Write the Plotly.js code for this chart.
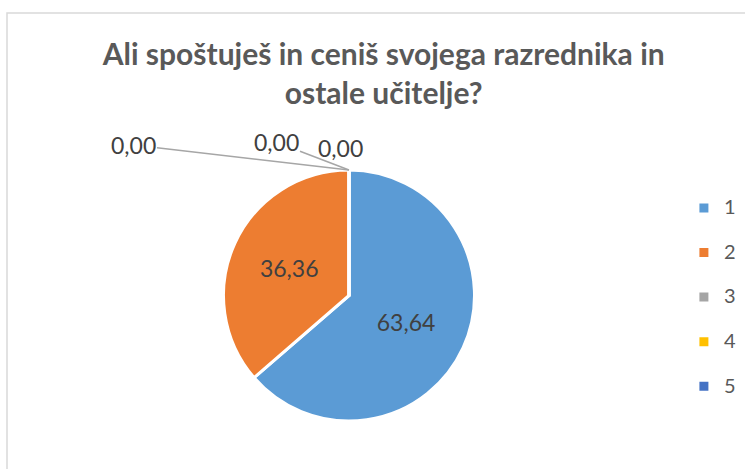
<!DOCTYPE html>
<html>
<head>
<meta charset="utf-8">
<script src="https://cdn.plot.ly/plotly-3.0.1.min.js"></script>
<style>html,body{margin:0;padding:0;background:#fff;}#chart{width:745px;height:469px;}</style>
</head>
<body>
<div id="chart"></div>
<script>
const categories = ['1', '2', '3', '4', '5'];
const values = [63.64, 36.36, 0, 0, 0];
const sliceColors = ['#5B9BD5', '#ED7D31', '#A5A5A5', '#FFC000', '#4472C4'];
const titleText = 'Ali spoštuješ in ceniš svojega razrednika in<br>ostale učitelje?';

// offsets (px) of the labels of zero-valued slices from the top of the pie
const zeroLabelOffsets = [[-216, -25, true], [-73, -28, true], [-9, -22, false]];

const fmt = v => v.toFixed(2).replace('.', ',');

const pieText = values.map(v => v === 0 ? '' : fmt(v));

const trace = {
  type: 'pie',
  labels: categories.map(c => '<span style="font-size:20px">' + c + '</span><br>&nbsp;'),
  values: values,
  text: pieText,
  textinfo: 'text',
  textposition: 'inside',
  insidetextorientation: 'horizontal',
  textfont: {family: 'Lato, "Open Sans", sans-serif', size: 23, color: '#404040'},
  marker: {colors: sliceColors, line: {color: '#ffffff', width: 3}},
  sort: false,
  direction: 'clockwise',
  rotation: 0,
  hoverinfo: 'label+value',
  domain: {x: [222/745, 476/745], y: [1 - 421/469, 1 - 170/469]}
};

const pieTopX = (222 + 476) / 2 / 745;
const pieTopY = 1 - 170/469;

const zeroIdx = values.map((v, i) => v === 0 ? i : -1).filter(i => i >= 0);
const annotations = zeroIdx.map((idx, k) => ({
  x: pieTopX, y: pieTopY, xref: 'paper', yref: 'paper',
  text: fmt(values[idx]),
  showarrow: true, arrowhead: 0, arrowwidth: 1.5,
  arrowcolor: zeroLabelOffsets[k][2] ? '#A6A6A6' : 'rgba(0,0,0,0)',
  ax: zeroLabelOffsets[k][0], ay: zeroLabelOffsets[k][1],
  standoff: 0, startstandoff: 0,
  font: {family: 'Lato, "Open Sans", sans-serif', size: 23, color: '#404040'}
}));

const layout = {
  width: 745, height: 469,
  margin: {l: 0, r: 0, t: 0, b: 0, autoexpand: false},
  paper_bgcolor: '#ffffff',
  separators: ',.',
  title: {
    text: titleText,
    font: {family: 'Lato, "Open Sans", sans-serif', size: 30, color: '#595959', weight: 'bold'},
    x: 0.515, xanchor: 'center', y: 1 - 65/469, yanchor: 'top'
  },
  showlegend: true,
  legend: {
    x: 0.918, y: 1 - 191/469, xanchor: 'left', yanchor: 'top',
    font: {family: 'Lato, "Open Sans", sans-serif', size: 16, color: '#595959'},
    valign: 'top', itemwidth: 30, bgcolor: 'rgba(0,0,0,0)'
  },
  annotations: annotations,
  shapes: [
    {type: 'rect', xref: 'paper', yref: 'paper', x0: 7/745, x1: 1.02, y0: -0.02, y1: 1 - 13/469,
     line: {color: '#D9D9D9', width: 1.5}, fillcolor: 'rgba(0,0,0,0)', layer: 'below'}
  ]
};

Plotly.newPlot('chart', [trace], layout, {displayModeBar: false, staticPlot: true});
</script>
</body>
</html>
